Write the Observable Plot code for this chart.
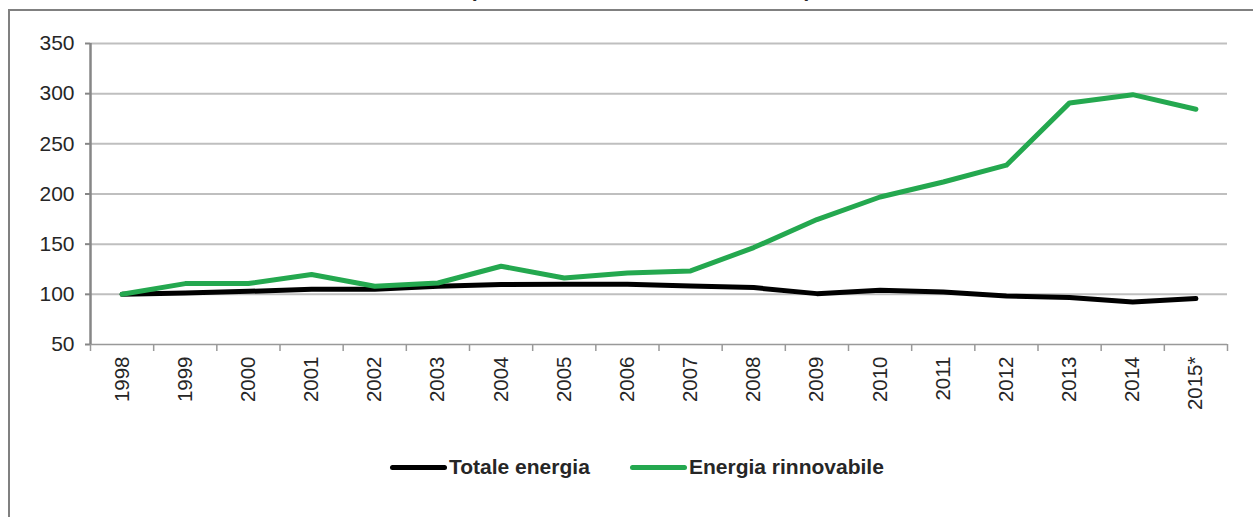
<!DOCTYPE html>
<html>
<head>
<meta charset="utf-8">
<script src="https://cdn.jsdelivr.net/npm/d3@7"></script>
<script src="https://cdn.jsdelivr.net/npm/@observablehq/plot@0.6"></script>
<style>
  html, body { margin: 0; padding: 0; background: #ffffff; }
  body { width: 1253px; height: 517px; position: relative; overflow: hidden; font-family: Arial, "Liberation Sans", sans-serif; }
  #frame { position: absolute; left: 8px; top: 9px; width: 1400px; height: 700px; border: 2.5px solid #808080; box-sizing: border-box; pointer-events: none; z-index: 2; }
  #title { position: absolute; left: 42px; width: 1200px; top: -21px; text-align: center; font-size: 21px; line-height: 21px; font-weight: bold; color: #262626; white-space: nowrap; letter-spacing: 3.2px; }
  #chart { position: absolute; left: 0; top: 0; }
  #legend { position: absolute; left: 0; top: 455px; width: 1253px; height: 24px; }
  .item { position: absolute; top: 0; display: flex; align-items: center; height: 24px; font-size: 21px; font-weight: bold; color: #262626; white-space: nowrap; }
  .sw { display: inline-block; width: 57px; height: 5px; border-radius: 3px; margin-right: 2px; }
</style>
</head>
<body>
<div id="title">(numeri indice 1998 = 100)</div>
<div id="chart"></div>
<div id="legend"></div>
<div id="frame"></div>
<script>
const years = ["1998","1999","2000","2001","2002","2003","2004","2005","2006","2007","2008","2009","2010","2011","2012","2013","2014","2015*"];
const totaleEnergia = [100, 101.4, 103, 105, 105, 108, 109.7, 110, 110, 108.3, 106.7, 100.7, 104, 102.4, 98.4, 96.8, 92.4, 95.8];
const energiaRinnovabile = [100, 110.7, 110.7, 119.8, 108, 111.3, 128, 116.3, 121.3, 123.3, 146.6, 174.5, 197, 212, 228.7, 290.8, 299, 284.5];
const yTicks = [50, 100, 150, 200, 250, 300, 350];
const seriesNames = ["Totale energia", "Energia rinnovabile"];
const seriesColors = ["#000000", "#24a84f"];

const seriesValues = [totaleEnergia, energiaRinnovabile];
const rows = seriesNames.flatMap((name, s) => years.map((yr, i) => ({i, year: yr, series: name, value: seriesValues[s][i]})));

const chart = Plot.plot({
  width: 1253,
  height: 420,
  marginLeft: 90,
  marginRight: 26,
  marginTop: 43,
  marginBottom: 76,
  x: {type: "linear", domain: [0, years.length]},
  y: {domain: [yTicks[0], yTicks[yTicks.length - 1]]},
  color: {domain: seriesNames, range: seriesColors},
  style: {background: "transparent", fontFamily: "Arial, 'Liberation Sans', sans-serif", fontSize: "21px", color: "#262626", overflow: "visible"},
  marks: [
    Plot.ruleY(yTicks.slice(1), {stroke: "#bfbfbf", strokeWidth: 2}),
    Plot.axisY({ticks: yTicks, tickSize: 5, tickPadding: 11, stroke: "#868686", strokeWidth: 2, label: null, fontSize: 21, tickFormat: d => String(d)}),
    Plot.axisX({ticks: d3.range(years.length + 1), tickSize: 7, tickFormat: () => "", stroke: "#999999", strokeWidth: 1.5, label: null}),
    Plot.axisX({ticks: d3.range(years.length).map(i => i + 0.5), tickSize: 0, tickPadding: 12, tickRotate: -90, tickFormat: d => years[Math.floor(d)], label: null, fontSize: 20.5}),
    Plot.ruleY([yTicks[0]], {stroke: "#999999", strokeWidth: 1.5}),
    Plot.ruleX([0], {stroke: "#868686", strokeWidth: 2.5}),
    Plot.line(rows, {x: d => d.i + 0.5, y: "value", z: "series", stroke: "series", strokeWidth: 5, strokeLinecap: "round", strokeLinejoin: "round"})
  ]
});
document.getElementById("chart").appendChild(chart);

const legendLefts = [390, 630];
const legend = document.getElementById("legend");
seriesNames.forEach((name, s) => {
  const item = document.createElement("div");
  item.className = "item";
  item.style.left = legendLefts[s] + "px";
  const sw = document.createElement("span");
  sw.className = "sw";
  sw.style.background = seriesColors[s];
  item.appendChild(sw);
  item.appendChild(document.createTextNode(name));
  legend.appendChild(item);
});
</script>
</body>
</html>
